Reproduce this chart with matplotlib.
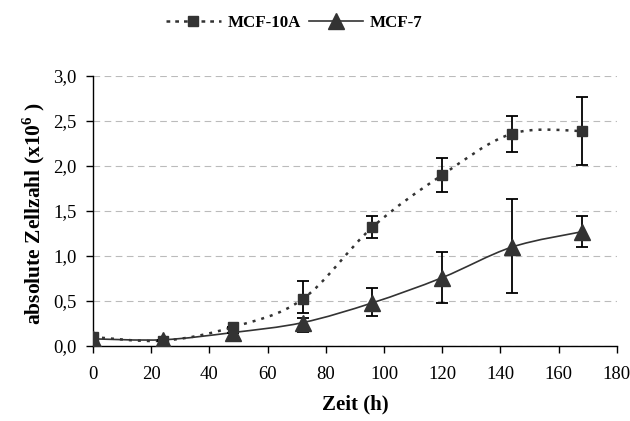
import matplotlib
matplotlib.use("Agg")
import matplotlib.pyplot as plt
from matplotlib.path import Path
from matplotlib.patches import PathPatch
from matplotlib.lines import Line2D
import numpy as np

# data
hours = [0, 24, 48, 72, 96, 120, 144, 168]
mcf10a = [0.10, 0.06, 0.21, 0.52, 1.32, 1.90, 2.36, 2.39]
mcf10a_lo = [0.10, 0.06, 0.21, 0.37, 1.20, 1.71, 2.16, 2.01]
mcf10a_hi = [0.10, 0.06, 0.21, 0.72, 1.44, 2.09, 2.56, 2.77]
mcf7 = [0.08, 0.07, 0.15, 0.26, 0.48, 0.76, 1.10, 1.27]
mcf7_lo = [0.08, 0.07, 0.15, 0.16, 0.33, 0.48, 0.59, 1.10]
mcf7_hi = [0.08, 0.07, 0.15, 0.31, 0.64, 1.04, 1.63, 1.44]
yticks = [0.0, 0.5, 1.0, 1.5, 2.0, 2.5, 3.0]
xticks = [0, 20, 40, 60, 80, 100, 120, 140, 160, 180]

plt.rcParams['font.family'] = 'Liberation Serif'
dark = '#333333'


def smooth_path(x, y):
    # excel-like smoothed line: cubic bezier segments through the points
    pts = np.column_stack([x, y]).astype(float)
    n = len(pts)
    verts = [pts[0]]
    codes = [Path.MOVETO]
    for i in range(n - 1):
        p0 = pts[max(i - 1, 0)]
        p1 = pts[i]
        p2 = pts[i + 1]
        p3 = pts[min(i + 2, n - 1)]
        verts += [p1 + (p2 - p0) / 6, p2 - (p3 - p1) / 6, p2]
        codes += [Path.CURVE4] * 3
    return Path(verts, codes)


fig = plt.figure(figsize=(6.3, 4.21), dpi=100)
ax = fig.add_axes([0.1476, 0.178, 0.8314, 0.6415])

ax.add_patch(PathPatch(smooth_path(hours, mcf10a), fill=False, edgecolor=dark,
                       lw=1.8, linestyle=(0, (1.2, 2.4)), zorder=2))
ax.add_patch(PathPatch(smooth_path(hours, mcf7), fill=False, edgecolor=dark,
                       lw=1.2, zorder=2))

err10a = [np.subtract(mcf10a, mcf10a_lo), np.subtract(mcf10a_hi, mcf10a)]
err7 = [np.subtract(mcf7, mcf7_lo), np.subtract(mcf7_hi, mcf7)]
ax.errorbar(hours, mcf10a, yerr=err10a, fmt='s', color=dark, ms=7,
            ecolor='black', elinewidth=1.3, capsize=4.5, capthick=1.3, zorder=3)
ax.errorbar(hours, mcf7, yerr=err7, fmt='^', color=dark, ms=11,
            ecolor='black', elinewidth=1.3, capsize=4.5, capthick=1.3, zorder=3)

ax.set_xlim(0, 180)
ax.set_ylim(0, 3.0)
ax.set_xticks(xticks)
ax.set_xticklabels([str(t) for t in xticks], fontsize=13.5)
ax.set_yticks(yticks)
ax.set_yticklabels([f'{t:.1f}'.replace('.', ',') for t in yticks], fontsize=13.5)
ax.yaxis.grid(True, color='#bbbbbb', linestyle=(0, (6, 4)), lw=0.8)
ax.set_axisbelow(True)
for s in ['top', 'right']:
    ax.spines[s].set_visible(False)
for s in ['left', 'bottom']:
    ax.spines[s].set_color('black')
    ax.spines[s].set_linewidth(1.0)
ax.tick_params(length=5, width=1.0, pad=7)
ax.tick_params(axis='x', pad=9)

ax.set_xlabel('Zeit (h)', fontsize=15, fontweight='bold', va='top')
ax.xaxis.set_label_coords(0.5, -0.18)
ax.set_ylabel('absolute Zellzahl (x10$^{\\mathregular{6}}$ )', fontsize=15.5,
              fontweight='bold', va='center')
ax.yaxis.set_label_coords(-0.113, 0.49)

handles = [
    Line2D([], [], color=dark, lw=1.8, linestyle=(0, (1.5, 2)), marker='s', ms=7),
    Line2D([], [], color=dark, lw=1.2, marker='^', ms=11),
]
fig.legend(handles, ['MCF-10A', 'MCF-7'], loc='center', bbox_to_anchor=(0.4675, 0.945),
           ncol=2, frameon=False, prop={'weight': 'bold', 'size': 12.2},
           handlelength=3.2, handletextpad=0.4, columnspacing=0.5)

fig.savefig('out.png', dpi=100)
